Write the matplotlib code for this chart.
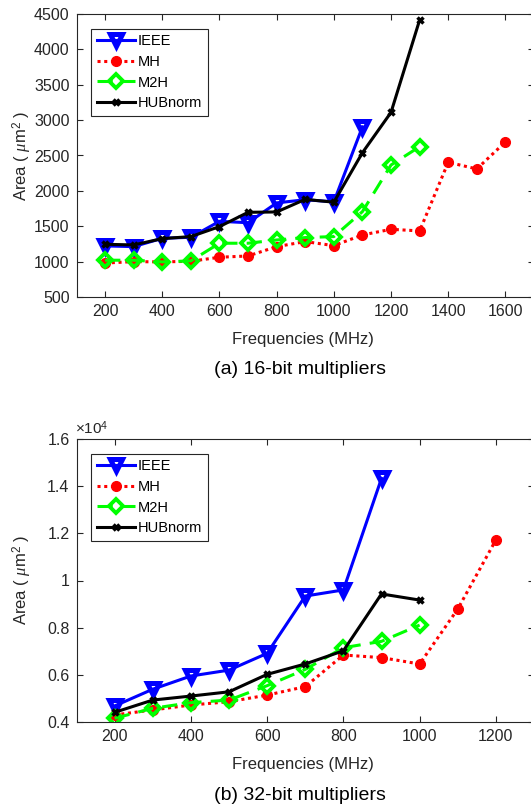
import matplotlib
matplotlib.use("Agg")
import matplotlib.pyplot as plt
from matplotlib.ticker import FuncFormatter

plt.rcParams['font.family'] = ['Liberation Sans', 'DejaVu Sans']
plt.rcParams['mathtext.fontset'] = 'custom'
plt.rcParams['mathtext.rm'] = 'Liberation Sans'
plt.rcParams['mathtext.it'] = 'Liberation Serif:italic'

# 16-bit multipliers (area in um^2)
freq16_ieee = [200, 300, 400, 500, 600, 700, 800, 900, 1000, 1100]
ieee16 = [1222, 1212, 1330, 1344, 1570, 1550, 1830, 1875, 1845, 2905]
freq16_mh = [200, 300, 400, 500, 600, 700, 800, 900, 1000, 1100, 1200, 1300, 1400, 1500, 1600]
mh16 = [980, 1000, 996, 1005, 1062, 1080, 1212, 1283, 1226, 1377, 1457, 1434, 2404, 2310, 2692]
freq16_m2h = [200, 300, 400, 500, 600, 700, 800, 900, 1000, 1100, 1200, 1300]
m2h16 = [1020, 1020, 996, 1010, 1260, 1260, 1306, 1340, 1354, 1707, 2366, 2625]
freq16_hub = [200, 300, 400, 500, 600, 700, 800, 900, 1000, 1100, 1200, 1300]
hub16 = [1245, 1236, 1325, 1354, 1495, 1697, 1702, 1880, 1840, 2540, 3110, 4415]

# 32-bit multipliers (area in um^2)
freq32_ieee = [200, 300, 400, 500, 600, 700, 800, 900]
ieee32 = [4680, 5390, 5950, 6200, 6910, 9340, 9600, 14330]
freq32_mh = [200, 300, 400, 500, 600, 700, 800, 900, 1000, 1100, 1200]
mh32 = [4300, 4510, 4720, 4860, 5140, 5500, 6840, 6730, 6460, 8790, 11720]
freq32_m2h = [200, 300, 400, 500, 600, 700, 800, 900, 1000]
m2h32 = [4160, 4580, 4820, 4930, 5540, 6230, 7150, 7420, 8110]
freq32_hub = [200, 300, 400, 500, 600, 700, 800, 900, 1000]
hub32 = [4410, 4930, 5100, 5280, 6020, 6460, 7020, 9430, 9170]

labels = ['IEEE', 'MH', 'M2H', 'HUBnorm']
W, H = 531, 808
axcol = '0.15'


def draw(ax, series, scale):
    (fi, yi), (fm, ym), (f2, y2), (fh, yh) = series
    ax.plot(fi, [v / scale for v in yi], color='#0000ff', lw=2.2, marker='v',
            ms=9, mfc='none', mew=3.6, label=labels[0])
    ax.plot(fm, [v / scale for v in ym], color='#ff0000', lw=2.2, ls=(0, (1, 1.2)),
            marker='o', ms=7, mfc='#ff0000', mec='#ff0000', label=labels[1])
    ax.plot(f2, [v / scale for v in y2], color='#00ff00', lw=2.2, ls=(0, (5, 3)),
            marker='D', ms=7.5, mfc='none', mew=2.8, label=labels[2])
    ax.plot(fh, [v / scale for v in yh], color='black', lw=2.2, marker='x',
            ms=5, mew=2.5, label=labels[3])
    ax.tick_params(direction='in', top=True, right=True, labelsize=11.5,
                   colors=axcol, length=4, pad=5)
    for s in ax.spines.values():
        s.set_color(axcol)
        s.set_linewidth(0.8)
    leg = ax.legend(loc='upper left', fontsize=10.5, fancybox=False,
                    framealpha=1, edgecolor='0.15', borderaxespad=1.0,
                    handlelength=2.6, handletextpad=0.2, labelspacing=0.45,
                    borderpad=0.4)
    leg.get_frame().set_linewidth(0.8)


fig = plt.figure(figsize=(W / 100, H / 100), dpi=100)

# (a) 16-bit
ax1 = fig.add_axes([76.5 / W, 1 - 297 / H, (534 - 76.5) / W, 283 / H])
draw(ax1, [(freq16_ieee, ieee16), (freq16_mh, mh16), (freq16_m2h, m2h16),
           (freq16_hub, hub16)], 1)
ax1.set_xlim(100, 1700)
ax1.set_ylim(500, 4500)
ax1.set_xticks(range(200, 1700, 200))
ax1.set_yticks(range(500, 4501, 500))

# (b) 32-bit
ax2 = fig.add_axes([76.5 / W, 1 - 722 / H, (534 - 76.5) / W, 283 / H])
draw(ax2, [(freq32_ieee, ieee32), (freq32_mh, mh32), (freq32_m2h, m2h32),
           (freq32_hub, hub32)], 1e4)
ax2.set_xlim(100, 1300)
ax2.set_ylim(0.4, 1.6)
ax2.set_xticks(range(200, 1300, 200))
ax2.set_yticks([0.4, 0.6, 0.8, 1.0, 1.2, 1.4, 1.6])
ax2.yaxis.set_major_formatter(FuncFormatter(lambda v, p: '%g' % round(v, 2)))
fig.text(75 / W, 1 - 437 / H, r'$\times$10$^4$', fontsize=11, color=axcol,
         ha='left', va='bottom')

# labels and captions
for ylab, yx, ycap, cap in [(156, 340, 370, '(a) 16-bit multipliers'),
                            (580, 765, 795, '(b) 32-bit multipliers')]:
    fig.text(22 / W, 1 - ylab / H, r'Area ( $\mu$m$^2$ )', rotation=90,
             fontsize=12, color=axcol, ha='center', va='center')
    fig.text(303 / W, 1 - yx / H, 'Frequencies (MHz)', fontsize=12,
             color=axcol, ha='center', va='center')
    fig.text(300 / W, 1 - ycap / H, cap, fontsize=14, color='black',
             ha='center', va='center')

fig.savefig('out.png', dpi=100)
